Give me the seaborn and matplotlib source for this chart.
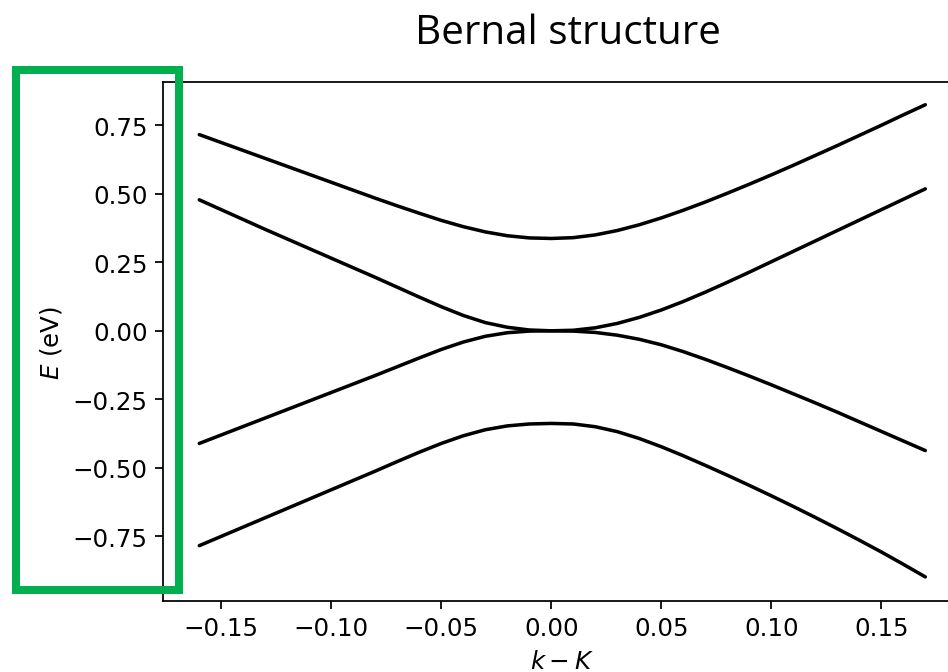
import matplotlib
matplotlib.use("Agg")
import matplotlib.pyplot as plt
import matplotlib.patches as patches
import pandas as pd
import seaborn as sns

# Wave vector measured from the K point
k = [-0.16, -0.15, -0.14, -0.13, -0.12, -0.11, -0.10, -0.09, -0.08, -0.07,
     -0.06, -0.05, -0.04, -0.03, -0.02, -0.01, 0.00, 0.01, 0.02, 0.03,
     0.04, 0.05, 0.06, 0.07, 0.08, 0.09, 0.10, 0.11, 0.12, 0.13,
     0.14, 0.15, 0.16, 0.17]

# Four bands of the Bernal-stacked bilayer (eV), top to bottom
band_upper = [0.716, 0.687, 0.658, 0.629, 0.600, 0.571, 0.542, 0.513, 0.484, 0.456,
              0.429, 0.403, 0.380, 0.361, 0.347, 0.339, 0.337, 0.340, 0.350, 0.366,
              0.387, 0.412, 0.440, 0.470, 0.502, 0.535, 0.569, 0.604, 0.640, 0.676,
              0.713, 0.750, 0.788, 0.825]
band_mid_up = [0.478, 0.442, 0.406, 0.370, 0.335, 0.300, 0.265, 0.230, 0.195, 0.159,
               0.123, 0.088, 0.056, 0.030, 0.013, 0.003, 0.000, 0.002, 0.011, 0.027,
               0.049, 0.076, 0.107, 0.141, 0.177, 0.214, 0.252, 0.290, 0.328, 0.366,
               0.404, 0.442, 0.480, 0.518]
band_mid_low = [-0.411, -0.380, -0.349, -0.318, -0.287, -0.256, -0.225, -0.194, -0.163, -0.131,
                -0.099, -0.068, -0.041, -0.020, -0.007, -0.001, 0.000, -0.001, -0.006, -0.016,
                -0.031, -0.051, -0.076, -0.104, -0.134, -0.165, -0.197, -0.230, -0.263, -0.297,
                -0.332, -0.367, -0.402, -0.437]
band_lower = [-0.784, -0.750, -0.716, -0.682, -0.648, -0.614, -0.580, -0.546, -0.512, -0.477,
              -0.443, -0.411, -0.383, -0.361, -0.347, -0.340, -0.338, -0.340, -0.350, -0.368,
              -0.393, -0.423, -0.456, -0.491, -0.527, -0.564, -0.602, -0.641, -0.681, -0.722,
              -0.764, -0.807, -0.852, -0.898]

bands = {"upper": band_upper, "mid_up": band_mid_up,
         "mid_low": band_mid_low, "lower": band_lower}
df = pd.concat(
    [pd.DataFrame({"k": k, "E": v, "band": name}) for name, v in bands.items()],
    ignore_index=True,
)

sns.set_style("ticks")
plt.rcParams["font.family"] = ["DejaVu Sans"]
plt.rcParams["axes.unicode_minus"] = True
plt.rcParams["mathtext.fontset"] = "dejavusans"

W, H, DPI = 948, 673, 158
fig = plt.figure(figsize=(W / DPI, H / DPI), dpi=DPI)
ax = fig.add_axes([163 / W, (H - 602) / H, 798.6 / W, 519 / H])

sns.lineplot(data=df, x="k", y="E", units="band", estimator=None,
             color="black", linewidth=1.6, sort=True, ax=ax, legend=False)

ax.set_xlim(-0.1765, 0.1865)
ax.set_ylim(-0.986, 0.908)
ax.set_xticks([-0.15, -0.10, -0.05, 0.00, 0.05, 0.10, 0.15])
ax.set_yticks([-0.75, -0.50, -0.25, 0.00, 0.25, 0.50, 0.75])
ax.tick_params(direction="out", length=3.5, width=0.8, labelsize=11.2,
               color="black", labelcolor="black")
for s in ax.spines.values():
    s.set_linewidth(0.8)
    s.set_color("black")
ax.set_xlabel("$k - K$", fontsize=11.2, color="black")
ax.set_ylabel("$E$ (eV)", fontsize=11.2, color="black")
ax.grid(False)

fig.text(568 / W, 1 - 44 / H, "Bernal structure", ha="center", va="baseline",
         fontsize=18.4, family=["Open Sans", "DejaVu Sans"], color="black")

# green highlight frame around the energy axis
rect = patches.Rectangle((16 / W, 1 - 590.5 / H), (178.5 - 16) / W, (590.5 - 70.5) / H,
                         transform=fig.transFigure, fill=False,
                         edgecolor="#00B050", linewidth=8 / DPI * 72, zorder=10)
fig.patches.append(rect)

fig.savefig("out.png", dpi=DPI)
